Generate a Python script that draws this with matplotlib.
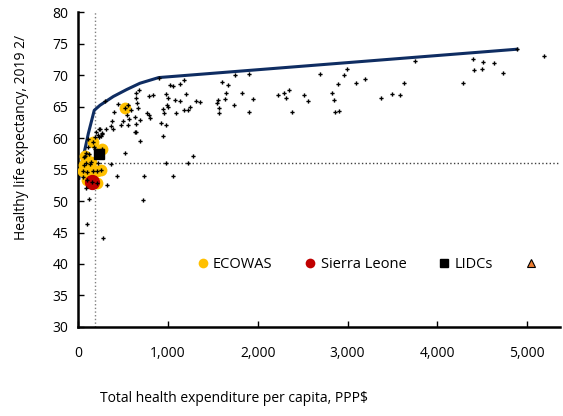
import matplotlib.pyplot as plt
import numpy as np
from matplotlib.lines import Line2D
from matplotlib.ticker import FuncFormatter

plt.rcParams['font.family'] = ['Open Sans', 'DejaVu Sans']

# all countries: health expenditure per capita (PPP$) and healthy life expectancy
spend = [2513, 2561, 2699, 2825, 2855, 2866, 2906, 2899, 2966, 2996, 3092, 3200, 3378,
         3497, 3586, 3627, 3753, 4283, 4391, 4410, 4510, 4492, 4629, 4725, 5190, 4885,
         2224, 2294, 2353, 2313, 2383,
         738, 787, 839, 906, 768, 787, 806, 928, 976, 947, 976, 1006, 1024, 1058, 995,
         1006, 950, 954, 1084, 1091, 1136, 1140, 1180, 1199, 1180, 1221, 1244, 1311,
         1358, 1281, 1229, 976, 1054, 728,
         1555, 1544, 1567, 1567, 1607, 1648, 1640, 1674, 1745, 1734, 1823, 1904, 1908, 1953,
         301, 442, 557, 404, 542, 375, 479, 505, 571, 560, 635, 690, 367, 386, 308, 245,
         263, 219, 238, 189, 646, 638, 687, 527, 371, 111, 115, 197, 208, 182, 438, 326,
         119, 97, 282, 646, 679, 642, 661, 672, 200, 587,
         230, 271, 252, 193, 212, 89, 122, 67, 137, 226, 650, 89, 52]
hale = [66.9, 65.9, 70.1, 67.1, 66.0, 64.1, 64.3, 68.6, 70.0, 70.9, 68.7, 69.3, 66.3,
        67.0, 66.8, 68.7, 72.3, 68.8, 72.5, 70.8, 72.1, 70.9, 71.9, 70.3, 73.1, 74.1,
        66.9, 67.1, 67.6, 66.3, 64.2,
        53.9, 66.6, 66.9, 69.6, 64.0, 63.7, 63.2, 62.4, 62.1, 60.3, 67.0, 66.3, 68.4, 68.3, 65.2,
        64.9, 64.6, 63.9, 66.0, 64.0, 65.8, 68.6, 69.2, 67.0, 64.4, 64.5, 65.0, 65.8,
        65.7, 57.2, 56.1, 56.1, 53.9, 50.2,
        66.1, 65.6, 64.7, 63.9, 68.9, 67.1, 66.2, 68.4, 70.0, 65.3, 67.1, 70.1, 64.1, 66.2,
        65.8, 65.4, 65.3, 64.1, 63.7, 62.7, 62.1, 62.7, 63.0, 62.1, 63.4, 62.9, 61.9, 61.5, 61.5, 61.4,
        60.8, 60.5, 60.1, 60.2, 62.2, 60.9, 59.6, 57.6, 55.9, 59.9, 58.5, 58.0, 57.6, 58.6, 54.0, 52.6,
        50.3, 46.4, 44.2, 67.1, 67.6, 66.4, 65.6, 64.7, 60.9, 64.4,
        61.4, 60.6, 60.3, 58.3, 57.7, 57.6, 57.4, 57.0, 55.8, 56.1, 61.0, 52.0, 53.8]

ecowas_x = [523, 171, 267, 82, 89, 71, 145, 59, 104, 163, 208, 252, 97, 215]
ecowas_y = [64.8, 59.3, 58.2, 57.2, 56.0, 55.7, 56.2, 54.8, 54.6, 54.7, 54.8, 54.9, 53.3, 52.9]

sle_x, sle_y = [156], [53.0]
lidc_x, lidc_y = [238], [57.5]

frontier_x = [11, 41, 59, 115, 181, 245, 394, 542, 690, 898, 4885]
frontier_y = [53.6, 56.0, 57.0, 60.7, 64.4, 65.2, 66.6, 67.7, 68.7, 69.6, 74.1]

ref_x = 190
ref_y = 56.0

fig = plt.figure(figsize=(5.63, 4.16), dpi=100)
ax = fig.add_axes([0.1385, 0.214, 0.857, 0.757])

ax.axvline(ref_x, color='#808080', ls=':', lw=1, zorder=1)
ax.axhline(ref_y, color='#404040', ls=':', lw=1, zorder=1)
ax.plot(frontier_x, frontier_y, color='#0f2d62', lw=2.2, zorder=2)

ax.plot(ecowas_x, ecowas_y, 'o', color='#FFC000', ms=8.5, mec='none', zorder=3)
ax.plot(sle_x, sle_y, 'o', color='#C00000', ms=11, mec='none', zorder=4)
ax.plot(spend, hale, 'P', color='black', ms=3, mec='none', zorder=5)
ax.plot(ecowas_x, ecowas_y, 'P', color='black', ms=3, mec='none', zorder=5)
ax.plot(sle_x, sle_y, 'P', color='black', ms=3, mec='none', zorder=5)
ax.plot(lidc_x, lidc_y, 's', color='black', ms=7, zorder=6)

ax.set_xlim(0, 5370)
ax.set_ylim(30, 80)
ax.set_yticks(np.arange(30, 81, 5))
ax.set_xticks(np.arange(0, 5001, 1000))
ax.xaxis.set_major_formatter(FuncFormatter(lambda v, p: f'{v:,.0f}'))
ax.tick_params(direction='in', length=4, width=1, labelsize=10, colors='black')
ax.tick_params(axis='x', pad=14)
ax.tick_params(axis='y', pad=7)
for s in ['top', 'right']:
    ax.spines[s].set_visible(False)
for s in ['left', 'bottom']:
    ax.spines[s].set_linewidth(1.8)

handles = [
    Line2D([], [], ls='none', marker='o', color='#FFC000', mec='none', ms=7),
    Line2D([], [], ls='none', marker='o', color='#C00000', mec='none', ms=7),
    Line2D([], [], ls='none', marker='s', color='black', ms=6),
    Line2D([], [], ls='none', marker='^', color='#ED7D31', mec='black', mew=0.8, ms=6),
]
ax.legend(handles, ['ECOWAS', 'Sierra Leone', 'LIDCs', ''], ncol=4, frameon=False,
          loc='center', bbox_to_anchor=(0.6, 0.197), fontsize=10.5,
          handletextpad=0.1, columnspacing=2.0, handlelength=1.2)

fig.text(100 / 563, 1 - 398 / 416, 'Total health expenditure per capita, PPP$',
         ha='left', va='center', fontsize=10)
fig.text(22 / 563, 0.67, 'Healthy life expectancy, 2019 2/', rotation=90,
         ha='center', va='center', fontsize=10)

plt.savefig('out.png', dpi=100)
